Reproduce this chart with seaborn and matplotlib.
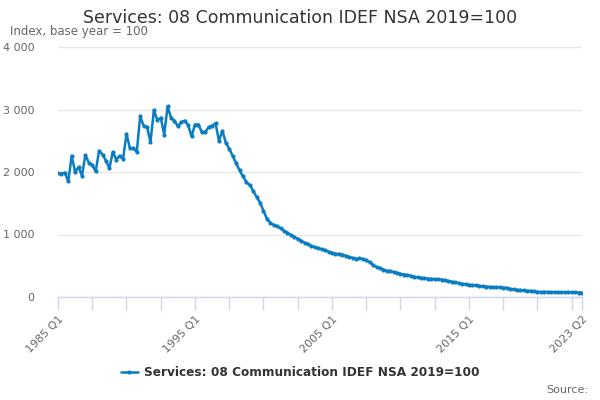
import numpy as np
import pandas as pd
import matplotlib
matplotlib.use("Agg")
import matplotlib.pyplot as plt
import seaborn as sns

start_year = 1985
start_q = 1
values = [
    1980, 1975, 1990, 1850, 2260, 2000, 2080, 1940, 2270, 2150,
    2110, 2010, 2340, 2280, 2180, 2060, 2320, 2200, 2260, 2210,
    2610, 2380, 2380, 2320, 2890, 2740, 2720, 2480, 2990, 2830,
    2870, 2600, 3050, 2870, 2820, 2730, 2800, 2820, 2750, 2570,
    2760, 2760, 2640, 2640, 2720, 2740, 2780, 2500, 2660, 2470,
    2370, 2260, 2140, 2030, 1930, 1840, 1790, 1700, 1600, 1510,
    1380, 1250, 1190, 1150, 1130, 1100, 1060, 1030, 990, 960,
    930, 900, 870, 850, 815, 800, 780, 765, 745, 725,
    710, 690, 690, 680, 660, 640, 625, 610, 620, 605,
    590, 555, 510, 480, 465, 440, 420, 415, 400, 390,
    370, 360, 350, 340, 325, 315, 310, 300, 295, 290,
    285, 285, 280, 265, 255, 245, 235, 220, 210, 205,
    195, 190, 185, 178, 172, 167, 162, 158, 155, 153,
    150, 148, 130, 122, 115, 110, 105, 100, 97, 90,
    82, 80, 80, 80, 78, 77, 76, 75, 75, 74,
    74, 73, 72, 72,
]
series_name = "Services: 08 Communication IDEF NSA 2019=100"
tick_labels = ["1985 Q1", "1995 Q1", "2005 Q1", "2015 Q1", "2023 Q2"]
y_ticks = [0, 1000, 2000, 3000, 4000]

n = len(values)
labels = []
y, q = start_year, start_q
for _ in range(n):
    labels.append(f"{y} Q{q}")
    q += 1
    if q > 4:
        q = 1
        y += 1

df = pd.DataFrame({"idx": np.arange(n), "value": values, "period": labels, "series": series_name})

sns.set_theme(style="white")
plt.rcParams["font.family"] = ["DejaVu Sans"]

fig = plt.figure(figsize=(6, 4), dpi=100)
ax = fig.add_axes([58 / 600, 1 - 297 / 400, 524 / 600, 250 / 400])

line_color = "#0a7cc1"
sns.lineplot(data=df, x="idx", y="value", hue="series", palette=[line_color], ax=ax,
             linewidth=1.8, marker="o", markersize=3, markeredgewidth=0, legend=True)

ax.set_xlim(0, n - 1)
ax.set_ylim(0, 4000)
ax.set_yticks(y_ticks)
ax.set_yticklabels([f"{v:,}".replace(",", " ") for v in y_ticks], color="#666666", fontsize=8)
ax.yaxis.grid(True, color="#e6e6e6", linewidth=1)
ax.xaxis.grid(False)
ax.tick_params(axis="y", length=0, pad=17)

label_pos = [labels.index(t) for t in tick_labels]
ax.set_xticks(label_pos)
ax.set_xticklabels(tick_labels, rotation=45, ha="right", rotation_mode="anchor",
                   color="#666666", fontsize=8)
ax.set_xticks(np.arange(0, n, 10), minor=True)
ax.tick_params(axis="x", which="both", length=9, color="#ccd6eb", width=1, pad=3, direction="out")
ax.xaxis.set_ticks_position("bottom")

for s in ["top", "right", "left"]:
    ax.spines[s].set_visible(False)
ax.spines["bottom"].set_color("#ccd6eb")
ax.spines["bottom"].set_linewidth(1)
ax.set_xlabel("")
ax.set_ylabel("")

fig.text(0.5, 1 - 18 / 400, series_name, ha="center", va="center", fontsize=12.5, color="#333333")
fig.text(10 / 600, 1 - 32 / 400, "Index, base year = 100", ha="left", va="center", fontsize=8.5, color="#666666")
fig.text(588 / 600, 1 - 390 / 400, "Source:", ha="right", va="center", fontsize=8, color="#666666")

leg = ax.legend(loc="center", bbox_to_anchor=(0.5, 1 - 373 / 400), bbox_transform=fig.transFigure,
                frameon=False, handlelength=1.4, handletextpad=0.5,
                prop={"weight": "bold", "size": 8.7})
for t in leg.get_texts():
    t.set_color("#333333")

fig.savefig("out.png", dpi=100)
